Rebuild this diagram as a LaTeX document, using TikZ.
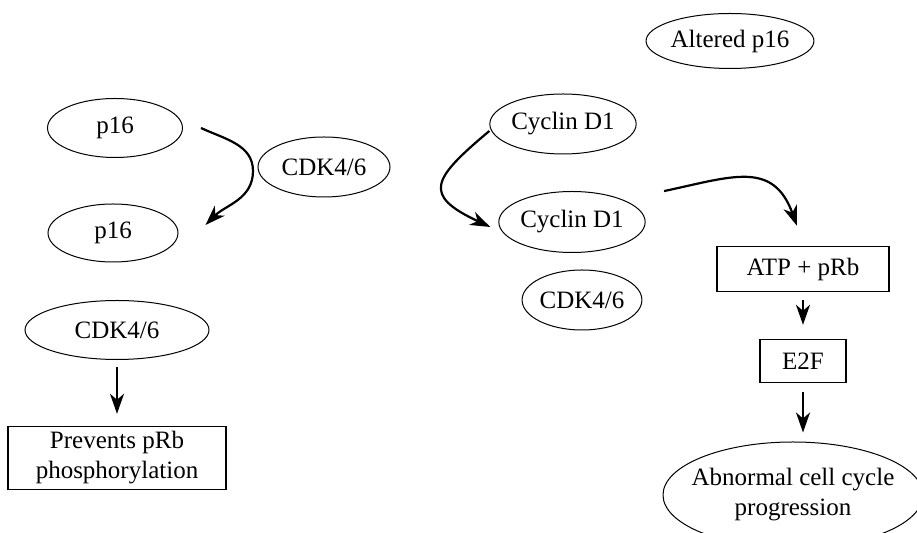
\documentclass[tikz,border=0pt]{standalone}
\usepackage{fontspec}
\setmainfont{Liberation Serif}
\usepackage{tikz}
\usetikzlibrary{shapes.geometric}
\usetikzlibrary{arrows.meta}

\begin{document}
\begin{tikzpicture}[x=0.5pt,y=-0.5pt,
	font=\fontsize{12.5}{15}\selectfont,
	oval/.style={draw,ellipse,inner sep=0pt,line width=0.5pt},
	boxnode/.style={draw,rectangle,inner sep=0pt,line width=0.7pt,align=center},
	arr/.style={-{Stealth[length=10pt,width=7pt,inset=3pt]},line width=1.1pt}]

	\clip (0,0) rectangle (917,533);
	% Left column %
	\node [oval,minimum width=67.5pt,minimum height=29.5pt] (p16a) at (115,128) {p16};
	\node [oval,minimum width=65pt,minimum height=29pt] (p16b) at (113,233) {p16};
	\node [oval,minimum width=92pt,minimum height=29.5pt] (cdkleft) at (117,330) {CDK4/6};
	\node [boxnode,minimum width=109pt,minimum height=31.5pt] (prevents) at (117,458) {Prevents pRb\\phosphorylation};
	% Middle %
	\node [oval,minimum width=66pt,minimum height=30pt] (cdkmid) at (324,167) {CDK4/6};
	\node [oval,minimum width=71pt,minimum height=30pt] (cyclina) at (563,124) {Cyclin D1};
	\node [oval,minimum width=72.5pt,minimum height=30.5pt] (cyclinb) at (572,222) {Cyclin D1};
	\node [oval,minimum width=55pt,minimum height=30pt] (cdkright) at (582,300) {CDK4/6};
	% Right column %
	\node [oval,minimum width=62pt,minimum height=27.5pt] (altered) at (730,41) {Altered p16};
	\node [boxnode,minimum width=86pt,minimum height=22.5pt] (atp) at (803,269) {ATP + pRb};
	\node [boxnode,minimum width=43pt,minimum height=21.5pt] (e2f) at (803,361) {E2F};
	\node [oval,inner xsep=-5pt,minimum width=130pt,minimum height=53pt,align=center] (abnormal) at (793,495) {Abnormal cell cycle\\progression};
	% Arrows %
	\draw [arr] ([xshift=9pt]p16a.east) to[out=-25,in=90] ++(52,43) to[out=-90,in=45] ([xshift=13.5pt,yshift=4pt]p16b.east);
	\draw [arr] ([yshift=-3.5pt]cyclina.west) to[out=-140,in=155,looseness=2] ([xshift=-4pt,yshift=-2.5pt]cyclinb.west);
	\draw [arr] ([xshift=20pt,yshift=4.5pt]cyclinb.north east) to[out=12,in=110,looseness=1.3] ([xshift=-3pt,yshift=10pt]atp.north);
	\draw [arr,shorten <=3.5pt,shorten >=6pt] (cdkleft) -- (prevents);
	\draw [arr,shorten <=4pt,shorten >=7pt] (atp) -- (e2f);
	\draw [arr,shorten <=4.5pt,shorten >=4.5pt] (e2f.south) -- (e2f |- abnormal.north);
\end{tikzpicture}
\end{document}
